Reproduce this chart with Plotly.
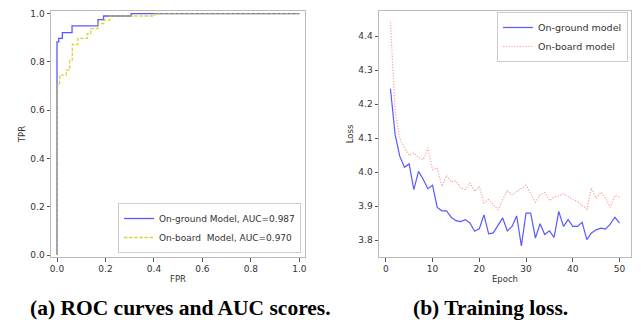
import plotly.graph_objects as go

# ROC data
fpr_ground = [0.0, 0.0, 0.007, 0.022, 0.062, 0.169, 0.192, 0.306, 1.0]
tpr_ground = [0.0, 0.883, 0.897, 0.921, 0.949, 0.975, 0.990, 1.0, 1.0]
fpr_board = [0.0, 0.0, 0.011, 0.038, 0.052, 0.063, 0.086, 0.125, 0.139, 0.169, 0.193, 0.217, 0.402, 1.0]
tpr_board = [0.0, 0.704, 0.745, 0.766, 0.807, 0.872, 0.897, 0.917, 0.938, 0.959, 0.973, 0.990, 1.0, 1.0]

# Loss data
epochs = list(range(1, 51))
loss_ground = [4.245, 4.110, 4.046, 4.014, 4.024, 3.948, 4.002, 3.979, 3.951, 3.961,
               3.896, 3.886, 3.886, 3.867, 3.857, 3.854, 3.860, 3.850, 3.826, 3.833,
               3.874, 3.818, 3.821, 3.845, 3.865, 3.827, 3.840, 3.871, 3.783, 3.879,
               3.879, 3.806, 3.848, 3.816, 3.827, 3.808, 3.884, 3.840, 3.860, 3.840,
               3.840, 3.852, 3.801, 3.821, 3.830, 3.835, 3.832, 3.847, 3.867, 3.850]
loss_board = [4.441, 4.178, 4.100, 4.071, 4.049, 4.056, 4.043, 4.036, 4.071, 4.007,
              4.012, 3.958, 3.990, 3.971, 3.974, 3.953, 3.949, 3.968, 3.943, 3.958,
              3.909, 3.919, 3.904, 3.889, 3.919, 3.946, 3.933, 3.943, 3.951, 3.961,
              3.936, 3.911, 3.933, 3.940, 3.916, 3.926, 3.930, 3.936, 3.928, 3.919,
              3.914, 3.901, 3.891, 3.953, 3.923, 3.941, 3.924, 3.896, 3.931, 3.926]

roc_ticks = [0.0, 0.2, 0.4, 0.6, 0.8, 1.0]
roc_ticklabels = ["0.0", "0.2", "0.4", "0.6", "0.8", "1.0"]
loss_xticks = [0, 10, 20, 30, 40, 50]
loss_yticks = [3.8, 3.9, 4.0, 4.1, 4.2, 4.3, 4.4]
loss_yticklabels = ["3.8", "3.9", "4.0", "4.1", "4.2", "4.3", "4.4"]

BLUE = "rgba(60,60,255,0.85)"
YELLOW = "rgba(205,200,0,0.75)"
RED = "rgba(255,90,90,0.6)"
FONT = "DejaVu Sans"
TXT = "#333333"
FRAME = "#bbbbbb"

fig = go.Figure()

fig.add_trace(go.Scatter(x=fpr_ground, y=tpr_ground, mode="lines", line_shape="hv",
                         line=dict(color=BLUE, width=1.3),
                         name="On-ground Model, AUC=0.987", xaxis="x", yaxis="y", legend="legend"))
fig.add_trace(go.Scatter(x=fpr_board, y=tpr_board, mode="lines", line_shape="hv",
                         line=dict(color=YELLOW, width=1.3, dash="3.5px,1.6px"),
                         name="On-board  Model, AUC=0.970", xaxis="x", yaxis="y", legend="legend"))

fig.add_trace(go.Scatter(x=epochs, y=loss_ground, mode="lines",
                         line=dict(color=BLUE, width=1.2),
                         name="On-ground model", xaxis="x2", yaxis="y2", legend="legend2"))
fig.add_trace(go.Scatter(x=epochs, y=loss_board, mode="lines",
                         line=dict(color=RED, width=1.2, dash="1.2px,1.6px"),
                         name="On-board model", xaxis="x2", yaxis="y2", legend="legend2"))

W, H = 641, 320

def dom_x(a, b):
    return [a / W, b / W]

def dom_y(top, bottom):
    return [1 - bottom / H, 1 - top / H]

axis_common = dict(showgrid=False, zeroline=False, showline=True, mirror=True,
                   linecolor=FRAME, linewidth=1, ticks="outside", ticklen=3.5,
                   tickcolor="#555555", tickwidth=0.8, automargin=False,
                   tickfont=dict(family=FONT, size=9, color=TXT))

title_font = dict(family=FONT, size=8.5, color=TXT)

fig.update_layout(
    width=W, height=H,
    margin=dict(l=0, r=0, t=0, b=0, autoexpand=False),
    paper_bgcolor="white", plot_bgcolor="white",
    font=dict(family=FONT, size=9, color=TXT),
    xaxis=dict(domain=dom_x(43, 297), range=[-0.0248, 1.0231], anchor="y",
               tickvals=roc_ticks, ticktext=roc_ticklabels,
               title=dict(text="FPR", font=title_font, standoff=2),
               **axis_common),
    yaxis=dict(domain=dom_y(3, 249), range=[-0.0083, 1.0107], anchor="x",
               tickvals=roc_ticks, ticktext=roc_ticklabels,
               title=dict(text="TPR", font=title_font, standoff=3),
               **axis_common),
    xaxis2=dict(domain=dom_x(371, 623), range=[-1.45, 52.45], anchor="y2",
                tickvals=loss_xticks,
                title=dict(text="Epoch", font=title_font, standoff=2),
                **axis_common),
    yaxis2=dict(domain=dom_y(3, 249), range=[3.75, 4.474], anchor="x2",
                tickvals=loss_yticks, ticktext=loss_yticklabels,
                title=dict(text="Loss", font=title_font, standoff=3),
                **axis_common),
    legend=dict(x=293 / W, y=1 - 245 / H, xanchor="right", yanchor="bottom",
                bgcolor="white", bordercolor="#cccccc", borderwidth=1,
                font=dict(family=FONT, size=9, color=TXT),
                itemwidth=30, tracegroupgap=0),
    legend2=dict(x=620 / W, y=1 - 4 / H, xanchor="right", yanchor="top",
                 bgcolor="white", bordercolor="#cccccc", borderwidth=1,
                 font=dict(family=FONT, size=9.5, color=TXT),
                 itemwidth=30, tracegroupgap=0),
    showlegend=True,
)

fig.add_annotation(text="<b>(a) ROC curves and AUC scores.</b>", x=172 / W, y=1 - 300 / H,
                   xref="paper", yref="paper", xanchor="center", yanchor="middle",
                   showarrow=False,
                   font=dict(family="Liberation Serif", size=21.5, color="black"))
fig.add_annotation(text="<b>(b) Training loss.</b>", x=482 / W, y=1 - 300 / H,
                   xref="paper", yref="paper", xanchor="center", yanchor="middle",
                   showarrow=False,
                   font=dict(family="Liberation Serif", size=21.5, color="black"))

fig.write_html("out.html")
